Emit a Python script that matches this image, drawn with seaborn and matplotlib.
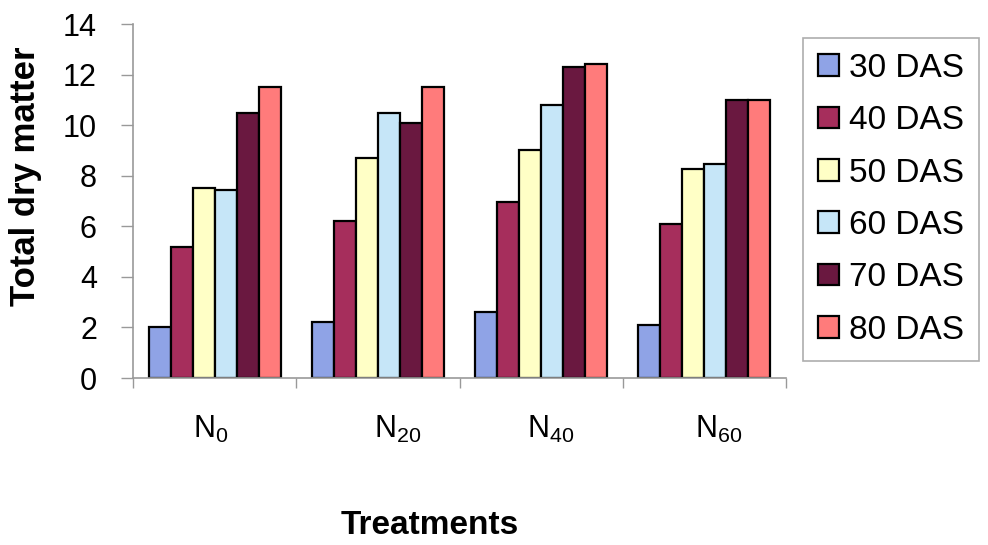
import matplotlib
matplotlib.use("Agg")
import matplotlib.pyplot as plt
import matplotlib.transforms as mtransforms
import seaborn as sns
import pandas as pd
from matplotlib.ticker import FixedLocator

# Treatments (nitrogen levels) and sampling stages
treatments = ["N0", "N20", "N40", "N60"]
treatment_labels = [r"N$_{0}$", r"N$_{20}$", r"N$_{40}$", r"N$_{60}$"]
stages = ["30 DAS", "40 DAS", "50 DAS", "60 DAS", "70 DAS", "80 DAS"]

# Total dry matter per stage, one value per treatment
das30 = [2.0, 2.2, 2.6, 2.1]
das40 = [5.2, 6.2, 6.95, 6.1]
das50 = [7.5, 8.7, 9.0, 8.25]
das60 = [7.45, 10.5, 10.8, 8.45]
das70 = [10.5, 10.1, 12.3, 11.0]
das80 = [11.5, 11.5, 12.4, 11.0]

y_ticks = [0, 2, 4, 6, 8, 10, 12, 14]

colors = ["#8FA3E6", "#A62E5C", "#FFFFC6", "#C6E6F8", "#6A1840", "#FF7B7B"]

# horizontal nudges (points) for the category labels
label_nudge = [-3, 14, 7, 10]

series = [das30, das40, das50, das60, das70, das80]
rows = []
for stage, vals in zip(stages, series):
    for t, v in zip(treatments, vals):
        rows.append({"Treatment": t, "Stage": stage, "Dry matter": v})
df = pd.DataFrame(rows)

sns.set_theme(style="white")
plt.rcParams["font.family"] = ["Liberation Sans", "DejaVu Sans"]
plt.rcParams["mathtext.fontset"] = "custom"
plt.rcParams["mathtext.rm"] = "Liberation Sans"
plt.rcParams["mathtext.it"] = "Liberation Sans"
plt.rcParams["text.color"] = "black"

fig = plt.figure(figsize=(9.88, 5.45), dpi=100)
ax = fig.add_axes([133 / 988, 1 - 378 / 545, (786 - 133) / 988, (378 - 24) / 545])

sns.barplot(data=df, x="Treatment", y="Dry matter", hue="Stage",
            order=treatments, hue_order=stages, palette=colors,
            width=0.81, edgecolor="black", linewidth=1.6, ax=ax,
            errorbar=None, saturation=1)

ax.set_ylim(0, 14)
ax.set_xlim(-0.5, 3.5)
ax.set_yticks(y_ticks)
ax.set_yticklabels([str(t) for t in y_ticks], fontsize=22)
ax.set_xticks(range(len(treatments)))
ax.set_xticklabels(treatment_labels, fontsize=22)
ax.tick_params(axis="x", length=0, pad=26, labelcolor="black")
ax.xaxis.set_minor_locator(FixedLocator([-0.5, 0.5, 1.5, 2.5, 3.5]))
ax.tick_params(axis="x", which="minor", length=7, color="#999999", width=1, bottom=True)
ax.tick_params(axis="y", length=9, color="#999999", width=1, pad=17, left=True,
               labelcolor="black")

for lbl, dx in zip(ax.get_xticklabels(), label_nudge):
    lbl.set_transform(lbl.get_transform() +
                      mtransforms.ScaledTranslation(dx / 72, 0, fig.dpi_scale_trans))

for side in ("top", "right"):
    ax.spines[side].set_visible(False)
for side in ("left", "bottom"):
    ax.spines[side].set_color("#999999")
    ax.spines[side].set_linewidth(1.2)

ax.set_xlabel("")
ax.set_ylabel("")
fig.text(25 / 988, 1 - 176 / 545, "Total dry matter", rotation=90,
         ha="center", va="center", fontsize=25, fontweight="bold")
fig.text(430 / 988, 1 - 525 / 545, "Treatments",
         ha="center", va="center", fontsize=24, fontweight="bold")

handles, labels = ax.get_legend_handles_labels()
if ax.legend_:
    ax.legend_.remove()
leg = fig.legend(handles, labels, loc="upper left",
                 bbox_to_anchor=(803 / 988, 1 - 38 / 545),
                 fontsize=24, frameon=True, fancybox=False,
                 handlelength=0.62, handleheight=0.62, handletextpad=0.32,
                 labelspacing=0.64, borderpad=0.45, borderaxespad=0)
leg.get_frame().set_edgecolor("#999999")
leg.get_frame().set_linewidth(1.2)

fig.savefig("out.png", dpi=100)
